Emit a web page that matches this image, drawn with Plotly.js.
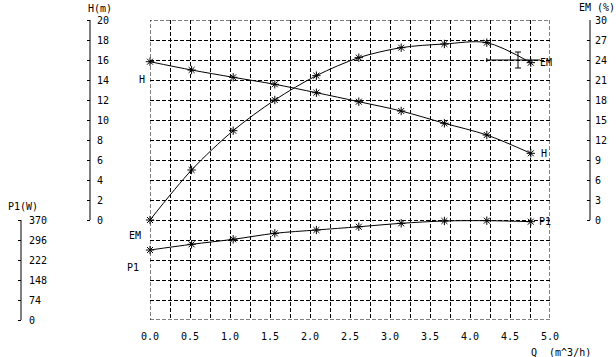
<!DOCTYPE html>
<html>
<head>
<meta charset="utf-8">
<script src="https://cdn.plot.ly/plotly-3.0.1.min.js"></script>
<style>html,body{margin:0;padding:0;background:#fff;}#chart{width:616px;height:357px;}</style>
</head>
<body>
<div id="chart"></div>
<script>
// Data
const Q  = [0, 0.52, 1.04, 1.56, 2.08, 2.61, 3.14, 3.68, 4.21, 4.76];
const H  = [15.83, 15.0, 14.27, 13.57, 12.73, 11.83, 10.9, 9.67, 8.5, 6.67];
const EM = [0, 7.5, 13.4, 18.0, 21.65, 24.35, 25.85, 26.4, 26.6, 23.6];
const P1 = [259, 280, 298.5, 320.7, 333, 345, 357.7, 366.3, 367.5, 363.8];
// duty point marker (on EM scale)
const dutyQ = [4.21, 4.875];
const dutyEM = [24, 24];
const dutyBarQ = [4.6];
const dutyBarEM = [24];
const dutyBarErr = [1.2];
// tick labels
const xTickLabels = ['0.0','0.5','1.0','1.5','2.0','2.5','3.0','3.5','4.0','4.5','5.0'];
const hTicks = [0,2,4,6,8,10,12,14,16,18,20];
const emTicks = [0,3,6,9,12,15,18,21,24,27,30];
const p1Ticks = [0,74,148,222,296,370];

const FONT = {family: 'DejaVu Sans Mono, Liberation Mono, monospace', size: 10, color: '#000'};
const DASH = '4px,2px';

const xVals = [], xText = [];
for (let i = 0; i <= 20; i++) {
  xVals.push(i * 0.25);
  xText.push(i % 2 === 0 ? xTickLabels[i / 2] : '');
}

const W = 616, ML = 10, MR = 10;
const PW = W - ML - MR;
const px = v => (v - ML) / PW;   // pixel -> paper fraction (layout helper)

const star = {symbol: 'asterisk-open', size: 7, color: '#000', line: {width: 1, color: '#000'}};
const lineStyle = {color: '#000', width: 1, shape: 'spline', smoothing: 0.9};

const traces = [
  {x: Q, y: H, yaxis: 'y2', mode: 'lines+markers', line: lineStyle, marker: star, cliponaxis: false, hoverinfo: 'skip'},
  {x: Q, y: EM, yaxis: 'y3', mode: 'lines+markers', line: lineStyle, marker: star, cliponaxis: false, hoverinfo: 'skip'},
  {x: Q, y: P1, yaxis: 'y4', mode: 'lines+markers', line: lineStyle, marker: star, cliponaxis: false, hoverinfo: 'skip'},
  {x: dutyQ, y: dutyEM, yaxis: 'y3', mode: 'lines', line: {color: '#000', width: 1}, cliponaxis: false, hoverinfo: 'skip',
   error_y: {type: 'data', array: [0.3, 0], symmetric: true, width: 0, thickness: 1, color: '#000'}},
  {x: dutyBarQ, y: dutyBarEM, yaxis: 'y3', mode: 'markers', marker: {size: 1, color: 'rgba(0,0,0,0)'}, cliponaxis: false, hoverinfo: 'skip',
   error_y: {type: 'data', array: dutyBarErr, symmetric: true, width: 3, thickness: 1, color: '#000'}}
];

const layout = {
  width: 616, height: 357,
  margin: {l: ML, r: MR, t: 20, b: 37, pad: 0},
  paper_bgcolor: '#fff', plot_bgcolor: '#fff',
  showlegend: false,
  font: FONT,
  xaxis: {
    domain: [px(150), px(550)], range: [0, 5], tickvals: xVals, ticktext: xText,
    showgrid: true, gridcolor: '#000', gridwidth: 1, griddash: DASH,
    zeroline: false, showline: false, ticks: '', tickfont: FONT, ticklabelstandoff: 9, fixedrange: true
  },
  yaxis: {
    range: [0, 15], dtick: 1, showticklabels: false, showgrid: true, gridcolor: '#000', gridwidth: 1, griddash: DASH,
    zeroline: false, showline: false, ticks: '', fixedrange: true
  },
  yaxis2: {
    overlaying: 'y', anchor: 'free', position: px(90), side: 'left', range: [-10, 20],
    tickvals: hTicks, ticks: 'outside', ticklen: 3, tickcolor: '#000', ticklabelposition: 'inside', ticklabeloverflow: 'allow',
    showgrid: false, zeroline: false, showline: false, tickfont: FONT, ticklabelstandoff: 3
  },
  yaxis3: {
    overlaying: 'y', anchor: 'free', position: px(590), side: 'right', range: [-15, 30],
    tickvals: emTicks, ticks: 'inside', ticklen: 3, tickcolor: '#000', ticklabeloverflow: 'allow',
    showgrid: false, zeroline: false, showline: false, tickfont: FONT, ticklabelstandoff: 4
  },
  yaxis4: {
    overlaying: 'y', anchor: 'free', position: px(21), side: 'left', range: [0, 1110],
    tickvals: p1Ticks, ticks: 'outside', ticklen: 3, tickcolor: '#000', ticklabelposition: 'inside', ticklabeloverflow: 'allow',
    showgrid: false, zeroline: false, showline: false, tickfont: FONT, ticklabelstandoff: 4
  },
  shapes: [
    {type: 'line', xref: 'paper', yref: 'y2', x0: px(90), x1: px(90), y0: 0, y1: 20, line: {color: '#000', width: 1}},
    {type: 'line', xref: 'paper', yref: 'y3', x0: px(590), x1: px(590), y0: 0, y1: 30, line: {color: '#000', width: 1}},
    {type: 'line', xref: 'paper', yref: 'y4', x0: px(21), x1: px(21), y0: 0, y1: 370, line: {color: '#000', width: 1}},
    {type: 'rect', xref: 'x', yref: 'y', x0: 0, x1: 5, y0: 0, y1: 15, line: {color: '#000', width: 1, dash: DASH}, layer: 'below'}
  ],
  annotations: [
    {text: 'H(m)', xref: 'paper', yref: 'paper', x: px(86), y: 1, yshift: 12, xanchor: 'left', yanchor: 'middle', showarrow: false, font: FONT},
    {text: 'EM (%)', xref: 'paper', yref: 'paper', x: px(577), y: 1, yshift: 13, xanchor: 'left', yanchor: 'middle', showarrow: false, font: FONT},
    {text: 'P1(W)', xref: 'paper', yref: 'y4', x: px(6), y: 370, yshift: 14, xanchor: 'left', yanchor: 'middle', showarrow: false, font: FONT},
    {text: 'Q  (m^3/h)', xref: 'paper', yref: 'paper', x: px(529), y: 0, yshift: -32, xanchor: 'left', yanchor: 'middle', showarrow: false, font: FONT},
    {text: 'H', xref: 'x', yref: 'y2', x: 0, y: 14.1, xanchor: 'right', xshift: -3, yanchor: 'middle', showarrow: false, font: FONT},
    {text: 'EM', xref: 'x', yref: 'y3', x: 0, y: -2.25, xanchor: 'right', xshift: -7, yanchor: 'middle', showarrow: false, font: FONT},
    {text: 'P1', xref: 'x', yref: 'y4', x: 0, y: 196, xanchor: 'right', xshift: -9, yanchor: 'middle', showarrow: false, font: FONT},
    {text: 'H', xref: 'x', yref: 'y2', x: Q[Q.length-1], y: H[H.length-1], xanchor: 'left', xshift: 8, yanchor: 'middle', showarrow: false, font: FONT},
    {text: 'EM', xref: 'x', yref: 'y3', x: Q[Q.length-1], y: EM[EM.length-1], xanchor: 'left', xshift: 7, yanchor: 'middle', showarrow: false, font: FONT},
    {text: 'P1', xref: 'x', yref: 'y4', x: Q[Q.length-1], y: P1[P1.length-1], xanchor: 'left', xshift: 6, yanchor: 'middle', showarrow: false, font: FONT}
  ]
};

Plotly.newPlot('chart', traces, layout, {staticPlot: true, displayModeBar: false});
</script>
</body>
</html>
